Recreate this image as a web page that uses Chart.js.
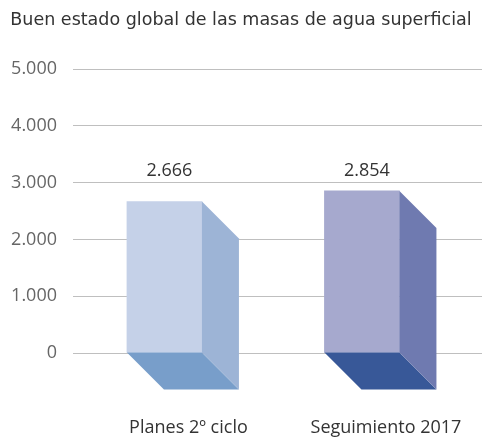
<!DOCTYPE html>
<html>
<head>
<meta charset="utf-8">
<script src="https://cdn.jsdelivr.net/npm/chart.js@4/dist/chart.umd.min.js"></script>
<style>
  html, body { margin: 0; padding: 0; background: #fff; }
  #wrap { width: 482px; height: 443px; }
</style>
</head>
<body>
<div id="wrap"><canvas id="chart" width="482" height="443"></canvas></div>
<script>
// ----- Data -----
const chartTitle = "Buen estado global de las masas de agua superficial";
const categories = ["Planes 2º ciclo", "Seguimiento 2017"];
const values = [2666, 2854];
const yTicks = [0, 1000, 2000, 3000, 4000, 5000];

// colours per bar: front, side, floor
const frontColors = ["#c5d1e8", "#a6a9ce"];
const sideColors = ["#9db4d6", "#6f7ab0"];
const floorColors = ["#789eca", "#385898"];

const DEPTH = 37;
const LABEL_FONT = "'Open Sans'";

function fmt(v) {
  return String(v).replace(/\B(?=(\d{3})+(?!\d))/g, ".");
}

// draws the side + floor of each bar, and the value row
const bars3d = {
  id: "bars3d",
  afterDatasetsDraw(chart) {
    const ctx = chart.ctx;
    const meta = chart.getDatasetMeta(0);
    ctx.save();
    let topMost = Infinity;
    meta.data.forEach((bar, i) => {
      const p = bar.getProps(["x", "y", "base", "width"], true);
      const x0 = p.x - p.width / 2, x1 = p.x + p.width / 2;
      topMost = Math.min(topMost, p.y);
      // floor
      ctx.fillStyle = floorColors[i];
      ctx.beginPath();
      ctx.moveTo(x0, p.base);
      ctx.lineTo(x1, p.base);
      ctx.lineTo(x1 + DEPTH, p.base + DEPTH);
      ctx.lineTo(x0 + DEPTH, p.base + DEPTH);
      ctx.closePath();
      ctx.fill();
      // side
      ctx.fillStyle = sideColors[i];
      ctx.beginPath();
      ctx.moveTo(x1, p.y);
      ctx.lineTo(x1 + DEPTH, p.y + DEPTH);
      ctx.lineTo(x1 + DEPTH, p.base + DEPTH);
      ctx.lineTo(x1, p.base);
      ctx.closePath();
      ctx.fill();
    });
    // value labels in one row above tallest bar
    ctx.fillStyle = "#333";
    ctx.font = "18px " + LABEL_FONT;
    ctx.textAlign = "center";
    ctx.textBaseline = "middle";
    meta.data.forEach((bar, i) => {
      ctx.fillText(fmt(values[i]), bar.x + 5, topMost - 20);
    });
    ctx.restore();
  }
};

new Chart(document.getElementById("chart"), {
  type: "bar",
  data: {
    datasets: [{
      data: values.map((v, i) => ({ x: i, y: v })),
      backgroundColor: frontColors,
      borderWidth: 0,
      barThickness: 75
    }]
  },
  options: {
    responsive: false,
    animation: false,
    layout: { padding: 0 },
    plugins: {
      legend: { display: false },
      tooltip: { enabled: false },
      title: {
        display: true,
        text: chartTitle,
        color: "#333",
        font: { family: "DejaVu Sans", size: 17.5, weight: "normal" },
        padding: { top: 10, bottom: 38 }
      }
    },
    scales: {
      x: {
        type: "linear",
        offset: false,
        min: -0.463,
        max: 1.608,
        grid: { display: false, offset: false },
        border: { display: false },
        afterBuildTicks: s => { s.ticks = categories.map((c, i) => ({ value: i })); },
        afterFit: s => { s.height = 90; s.paddingLeft = 0; s.paddingRight = 0; },
        ticks: {
          callback: v => categories[v],
          color: "#333",
          font: { family: "Open Sans", size: 18 },
          padding: 56,
          labelOffset: 24,
          maxRotation: 0,
          autoSkip: false
        }
      },
      y: {
        min: 0,
        max: 5000,
        afterBuildTicks: s => { s.ticks = yTicks.map(v => ({ value: v })); },
        afterFit: s => { s.width = 73; },
        grid: { color: "#bfbfbf", drawTicks: false },
        border: { display: false },
        ticks: {
          callback: v => fmt(v),
          color: "#666",
          font: { family: "Open Sans", size: 18 },
          padding: 16
        }
      }
    }
  },
  plugins: [bars3d]
});
</script>
</body>
</html>
